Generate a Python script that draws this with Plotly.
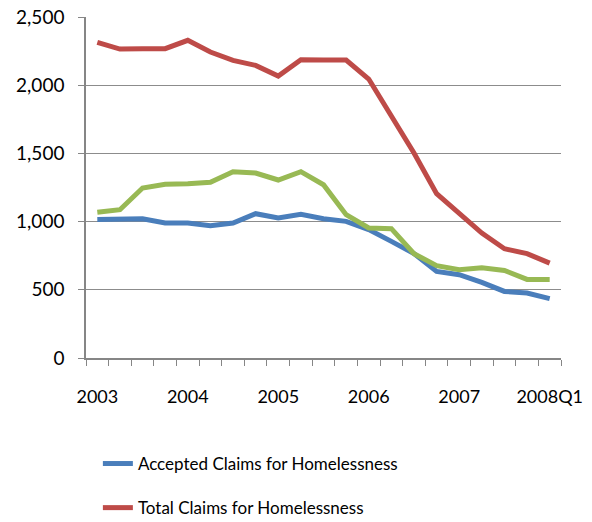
import plotly.graph_objects as go

quarters = [f"{y}Q{q}" for y in range(2003, 2008) for q in range(1, 5)] + ["2008Q1"]
tick_text = ["2003", "", "", "", "2004", "", "", "", "2005", "", "", "", "2006", "", "", "",
             "2007", "", "", "", "2008Q1"]

accepted = [1016, 1019, 1021, 990, 990, 970, 990, 1058, 1026, 1053, 1021, 1002,
            941, 855, 765, 635, 611, 554, 488, 476, 435]
total = [2314, 2265, 2268, 2268, 2329, 2243, 2182, 2145, 2067, 2187, 2185, 2184,
         2045, 1765, 1503, 1205, 1063, 916, 801, 765, 696]
other = [1068, 1087, 1246, 1273, 1278, 1288, 1366, 1356, 1305, 1366, 1270, 1051,
         953, 948, 765, 677, 647, 662, 642, 576, 576]

FONT = "Lato, Carlito, Calibri, sans-serif"

fig = go.Figure()
fig.add_trace(go.Scatter(x=quarters, y=accepted, mode="lines", name="Accepted Claims for Homelessness",
                         line=dict(color="#4A7EBB", width=5), legendgroup="a"))
fig.add_trace(go.Scatter(x=quarters, y=total, mode="lines", name="Total Claims for Homelessness",
                         line=dict(color="#BE4B48", width=5), legendgroup="b"))
fig.add_trace(go.Scatter(x=quarters, y=other, mode="lines", name="Other Claims for Homelessness",
                         line=dict(color="#98B954", width=5), legendgroup="c", showlegend=False))

fig.update_layout(
    width=592, height=522,
    margin=dict(l=86, r=31, t=17, b=164, autoexpand=False),
    plot_bgcolor="white", paper_bgcolor="white",
    font=dict(family=FONT, size=17, color="#000000"),
    legend=dict(x=0.025, xanchor="left", y=-0.258, yanchor="top",
                font=dict(family=FONT, size=17), tracegroupgap=19,
                bgcolor="rgba(0,0,0,0)"),
    xaxis=dict(type="category", tickmode="array", tickvals=quarters, ticktext=tick_text,
               tickson="boundaries", ticks="outside", ticklen=6, tickcolor="#868686",
               tickwidth=1.2,
               showline=True, linecolor="#868686", linewidth=1.5, showgrid=False,
               tickangle=0, tickfont=dict(size=18), range=[-0.5, 20.5],
               ticklabelstandoff=22, automargin=False),
    yaxis=dict(range=[0, 2500], tickvals=[0, 500, 1000, 1500, 2000, 2500],
               ticktext=["0", "500", "1,000", "1,500", "2,000", "2,500"],
               ticks="outside", ticklen=6, tickcolor="#868686", tickwidth=1.2,
               showline=True, linecolor="#868686", linewidth=1.5,
               showgrid=True, gridcolor="#8C8C8C", gridwidth=1.2,
               zeroline=False, ticklabelstandoff=10, tickfont=dict(size=19),
               automargin=False),
)

fig.write_html("out.html", config={"displayModeBar": False},
               post_script="document.body.style.margin='0';document.body.style.overflow='hidden';")
